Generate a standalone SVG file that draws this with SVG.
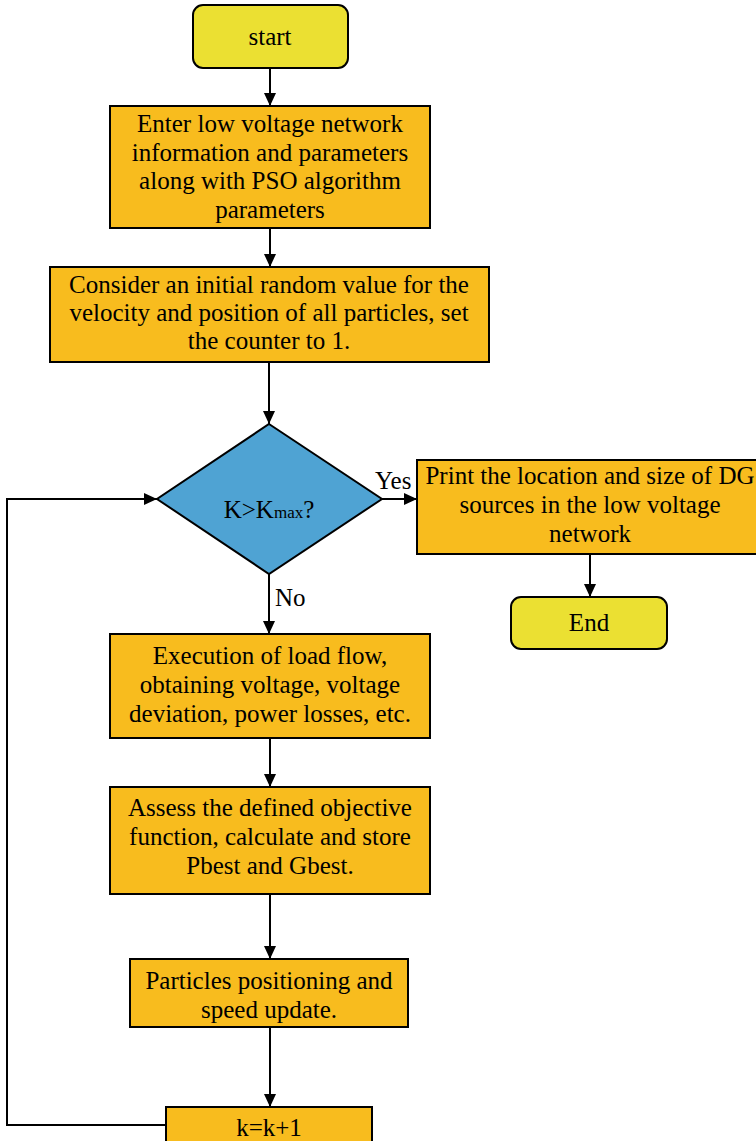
<svg xmlns="http://www.w3.org/2000/svg" width="756" height="1141" viewBox="0 0 756 1141" font-family="'Liberation Serif', 'Times New Roman', Times, serif" font-size="25">
<defs>
<marker id="arr" markerUnits="userSpaceOnUse" markerWidth="14" markerHeight="14" viewBox="0 0 14 14" refX="13" refY="7" orient="auto">
<path d="M0,1 L13,7 L0,13 Z" fill="#000"/>
</marker>
<style>
.term{fill:#EBE032;stroke:#000;stroke-width:2}
.proc{fill:#F8BC1E;stroke:#000;stroke-width:2}
.dec{fill:#4FA3D3;stroke:#000;stroke-width:2}
text{fill:#000;text-anchor:middle}
.lbl{text-anchor:start}
.conn{fill:none;stroke:#000;stroke-width:2}
</style>
</defs>
<rect width="756" height="1141" fill="#fff"/>
<g id="connectors">
<path class="conn" d="M270,68 V106" marker-end="url(#arr)"/>
<path class="conn" d="M270,228 V267" marker-end="url(#arr)"/>
<path class="conn" d="M269,362 V424" marker-end="url(#arr)"/>
<path class="conn" d="M382,499 H417" marker-end="url(#arr)"/>
<path class="conn" d="M590,554 V597" marker-end="url(#arr)"/>
<path class="conn" d="M269,574 V634" marker-end="url(#arr)"/>
<path class="conn" d="M270,738 V787" marker-end="url(#arr)"/>
<path class="conn" d="M270,894 V959" marker-end="url(#arr)"/>
<path class="conn" d="M270,1027 V1107" marker-end="url(#arr)"/>
<path class="conn" d="M166,1125 H7 V499 H157" marker-end="url(#arr)"/>
<text class="lbl" x="375" y="489">Yes</text>
<text class="lbl" x="275" y="606">No</text>
</g>
<g id="start">
<rect class="term" x="193" y="5" width="155" height="63" rx="10"/>
<text x="270" y="45">start</text>
</g>
<g id="input">
<rect class="proc" x="110" y="106" width="320" height="122"/>
<text x="270" y="132">Enter low voltage network</text>
<text x="270" y="161">information and parameters</text>
<text x="270" y="189">along with PSO algorithm</text>
<text x="270" y="218">parameters</text>
</g>
<g id="init">
<rect class="proc" x="50" y="267" width="439" height="95"/>
<text x="269" y="293">Consider an initial random value for the</text>
<text x="269" y="321">velocity and position of all particles, set</text>
<text x="269" y="349">the counter to 1.</text>
</g>
<g id="decision">
<polygon class="dec" points="269,424 382,499 269,574 157,499"/>
<text x="269" y="518">K&gt;K<tspan font-size="17">max</tspan>?</text>
</g>
<g id="print">
<rect class="proc" x="417" y="460" width="345" height="94"/>
<text x="590" y="484">Print the location and size of DG</text>
<text x="590" y="513">sources in the low voltage</text>
<text x="590" y="542">network</text>
</g>
<g id="end">
<rect class="term" x="511" y="597" width="156" height="52" rx="10"/>
<text x="589" y="631">End</text>
</g>
<g id="loadflow">
<rect class="proc" x="110" y="634" width="320" height="104"/>
<text x="270" y="664">Execution of load flow,</text>
<text x="270" y="693">obtaining voltage, voltage</text>
<text x="270" y="722">deviation, power losses, etc.</text>
</g>
<g id="assess">
<rect class="proc" x="110" y="787" width="320" height="107"/>
<text x="270" y="816">Assess the defined objective</text>
<text x="270" y="845">function, calculate and store</text>
<text x="270" y="874">Pbest and Gbest.</text>
</g>
<g id="update">
<rect class="proc" x="130" y="959" width="278" height="68"/>
<text x="269" y="989">Particles positioning and</text>
<text x="269" y="1018">speed update.</text>
</g>
<g id="increment">
<rect class="proc" x="166" y="1107" width="206" height="40"/>
<text x="269" y="1136">k=k+1</text>
</g>
</svg>
